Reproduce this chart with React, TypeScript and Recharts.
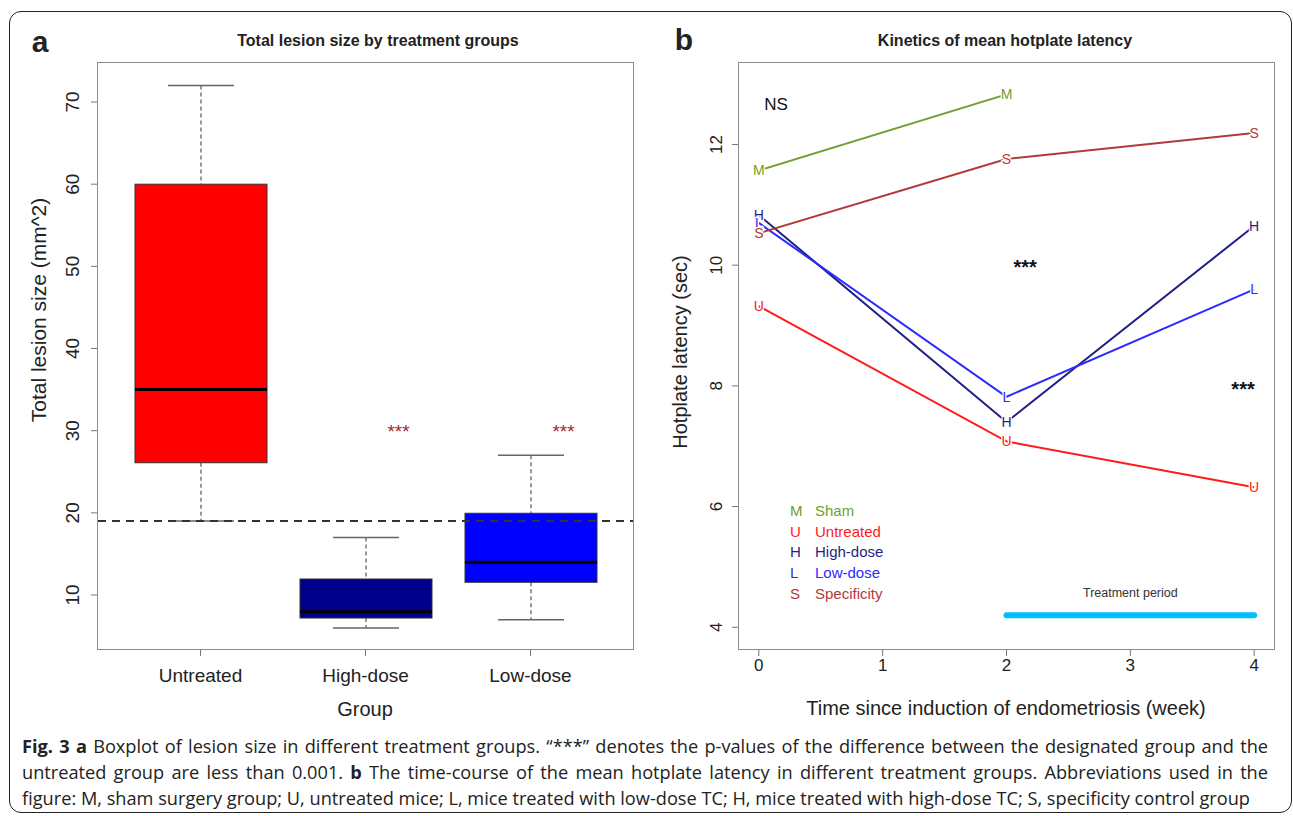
import {
  Bar,
  ComposedChart,
  Line,
  LineChart,
  ReferenceDot,
  ReferenceLine,
  XAxis,
  YAxis,
} from "recharts";

// panel a: boxplot of lesion size
const groups = ["Untreated", "High-dose", "Low-dose"];
const lesionMin = [19, 6, 7];
const lesionQ1 = [26.1, 7.2, 11.55];
const lesionMedian = [35, 7.95, 14];
const lesionQ3 = [60, 11.95, 19.95];
const lesionMax = [72, 17, 27];
const boxFills = ["#ff0000", "#00008b", "#0000ff"];
const lesionTicks = [10, 20, 30, 40, 50, 60, 70];
const cutoff = 19;
const starGroups = ["High-dose", "Low-dose"];
const starLevel = 30;

// panel b: mean hotplate latency
const weeks = [0, 2, 4];
const weekTicks = [0, 1, 2, 3, 4];
const latencyTicks = [4, 6, 8, 10, 12];
const seriesKeys = ["M", "U", "H", "L", "S"];
const seriesNames = ["Sham", "Untreated", "High-dose", "Low-dose", "Specificity"];
const seriesColors = ["#6e9e2e", "#ff1a1a", "#1f1f85", "#2b2bff", "#b03a3a"];
const sham = [11.57, 12.83, null];
const untreated = [9.32, 7.08, 6.32];
const highDose = [10.83, 7.4, 10.65];
const lowDose = [10.7, 7.82, 9.6];
const specificity = [10.53, 11.76, 12.19];
const treatmentWeeks = [2, 4];
const treatmentLevel = 4.2;

const FONT = "'Liberation Sans', Arial, Helvetica, sans-serif";
const INK = "#222";

const boxData = groups.map((g, i) => ({
  group: g,
  range: [lesionMin[i], lesionMax[i]],
  q1: lesionQ1[i],
  median: lesionMedian[i],
  q3: lesionQ3[i],
  fill: boxFills[i],
}));

const allSeries = [sham, untreated, highDose, lowDose, specificity];
const lineData = weeks.map((w, i) => {
  const row: any = { week: w };
  seriesKeys.forEach((k, j) => {
    row[k] = allSeries[j][i];
  });
  return row;
});

// desenha a caixa inteira a partir da barra [min, max]
const BoxShape = (props: any) => {
  const { x, y, width, height, payload } = props;
  const [lo, hi] = payload.range;
  const top = Math.min(y, y + height);
  const h = Math.abs(height);
  const toY = (v: number) => top + (h * (hi - v)) / (hi - lo);
  const cx = x + width / 2;
  const cap = width / 4;
  return (
    <g>
      <line x1={cx} x2={cx} y1={toY(hi)} y2={toY(payload.q3)} stroke="#555" strokeDasharray="4 3" strokeWidth={1.2} />
      <line x1={cx} x2={cx} y1={toY(payload.q1)} y2={toY(lo)} stroke="#555" strokeDasharray="4 3" strokeWidth={1.2} />
      <line x1={cx - cap} x2={cx + cap} y1={toY(hi)} y2={toY(hi)} stroke="#666" strokeWidth={1.5} />
      <line x1={cx - cap} x2={cx + cap} y1={toY(lo)} y2={toY(lo)} stroke="#666" strokeWidth={1.5} />
      <rect
        x={x}
        y={toY(payload.q3)}
        width={width}
        height={toY(payload.q1) - toY(payload.q3)}
        fill={payload.fill}
        stroke="#333"
        strokeWidth={1}
      />
      <line x1={x} x2={x + width} y1={toY(payload.median)} y2={toY(payload.median)} stroke="#000" strokeWidth={3} />
    </g>
  );
};

const makeRotatedTick = (offset: number, size: number) => (props: any) => {
  const { x, y, payload } = props;
  const bx = x - offset;
  return (
    <text
      x={bx}
      y={y}
      transform={`rotate(-90 ${bx} ${y})`}
      textAnchor="middle"
      fontSize={size}
      fontFamily={FONT}
      fill={INK}
    >
      {payload.value}
    </text>
  );
};

const makeBottomTick = (offset: number, size: number) => (props: any) => {
  const { x, y, payload } = props;
  return (
    <text x={x} y={y + offset} textAnchor="middle" fontSize={size} fontFamily={FONT} fill={INK}>
      {payload.value}
    </text>
  );
};

const makeLetterDot = (letter: string, color: string) => (props: any) => {
  const { cx, cy, index } = props;
  if (cx == null || cy == null || props.value == null) return <g key={index} />;
  return (
    <text
      key={index}
      x={cx}
      y={cy}
      dy="0.36em"
      textAnchor="middle"
      fontSize={14}
      fontFamily={FONT}
      fill={color}
      stroke="#fff"
      strokeWidth={2.5}
      paintOrder="stroke"
    >
      {letter}
    </text>
  );
};

const textShape = (txt: string, color: string, size: number, dx = 0, weight = "normal") => (props: any) => (
  <text
    x={props.cx + dx}
    y={props.cy}
    dy="0.36em"
    textAnchor="middle"
    fontSize={size}
    fontFamily={FONT}
    fontWeight={weight}
    fill={color}
  >
    {txt}
  </text>
);

const abs = (s: any): any => ({ position: "absolute", ...s });

const frameStyle = (left: number, top: number, right: number, bottom: number) =>
  abs({
    left: left - 0.75,
    top: top - 0.75,
    width: right - left + 1.5,
    height: bottom - top + 1.5,
    border: "1.5px solid #8c8c8c",
    boxSizing: "border-box",
    pointerEvents: "none",
  });

const label = (txt: string, x: number, y: number, size: number, extra: any = {}) => (
  <div
    style={abs({
      left: x,
      top: y,
      transform: `translate(-50%, -50%) ${extra.rotate ? "rotate(-90deg)" : ""}`,
      fontSize: size,
      fontFamily: FONT,
      color: extra.color || INK,
      fontWeight: extra.bold ? "bold" : "normal",
      whiteSpace: "nowrap",
      lineHeight: 1,
    })}
  >
    {txt}
  </div>
);

const captionLines = [
  [
    <b key="f">Fig. 3 a</b>,
    " Boxplot of lesion size in different treatment groups. \u201c***\u201d denotes the p-values of the difference between the designated group and the",
  ],
  [
    "untreated group are less than 0.001. ",
    <b key="b">b</b>,
    " The time-course of the mean hotplate latency in different treatment groups. Abbreviations used in the",
  ],
  ["figure: M, sham surgery group; U, untreated mice; L, mice treated with low-dose TC; H, mice treated with high-dose TC; S, specificity control group"],
];

export default function App() {
  return (
    <div style={abs({ left: 0, top: 0, width: 1293, height: 816, background: "#fff", overflow: "hidden" })}>
      <div
        style={abs({
          left: 9,
          top: 11,
          width: 1283,
          height: 802,
          border: "1.5px solid #222",
          borderRadius: 12,
          boxSizing: "border-box",
        })}
      />

      {/* painel a */}
      <div style={abs({ left: 0, top: 0 })}>
        <ComposedChart
          width={660}
          height={730}
          data={boxData}
          margin={{ top: 63, right: 27, bottom: 31, left: 58 }}
        >
          <XAxis
            dataKey="group"
            type="category"
            padding={{ left: 20, right: 20 }}
            axisLine={false}
            tickLine={{ stroke: "#777" }}
            tickSize={7}
            tickMargin={0}
            height={50}
            tick={makeBottomTick(26, 19)}
          />
          <YAxis
            type="number"
            domain={[3.43, 74.75]}
            ticks={lesionTicks}
            allowDataOverflow
            axisLine={false}
            tickLine={{ stroke: "#777" }}
            tickSize={7}
            tickMargin={0}
            width={40}
            tick={makeRotatedTick(12, 19)}
          />
          <ReferenceLine y={cutoff} stroke="#333" strokeWidth={2} strokeDasharray="8 6" />
          <Bar dataKey="range" barSize={132} shape={BoxShape} isAnimationActive={false} />
          {starGroups.map((g) => (
            <ReferenceDot
              key={g}
              x={g}
              y={starLevel}
              r={0}
              shape={textShape("***", "#a52a2a", 19, 33)}
            />
          ))}
        </ComposedChart>
      </div>
      <div style={frameStyle(98, 63, 633, 649)} />
      {label("a", 40, 42, 30, { bold: true })}
      {label("Total lesion size by treatment groups", 378, 41, 16, { bold: true })}
      {label("Total lesion size (mm^2)", 38, 310, 21, { rotate: true })}
      {label("Group", 365, 709, 20)}

      {/* painel b */}
      <div style={abs({ left: 660, top: 0 })}>
        <LineChart
          width={633}
          height={730}
          data={lineData}
          margin={{ top: 63, right: 19, bottom: 31, left: 39 }}
        >
          <XAxis
            dataKey="week"
            type="number"
            domain={[-0.16, 4.16]}
            ticks={weekTicks}
            allowDataOverflow
            axisLine={false}
            tickLine={{ stroke: "#777" }}
            tickSize={7}
            tickMargin={0}
            height={50}
            tick={makeBottomTick(15, 17)}
          />
          <YAxis
            type="number"
            domain={[3.64, 13.35]}
            ticks={latencyTicks}
            allowDataOverflow
            axisLine={false}
            tickLine={{ stroke: "#777" }}
            tickSize={7}
            tickMargin={0}
            width={40}
            tick={makeRotatedTick(10, 17)}
          />
          <ReferenceLine
            segment={[
              { x: treatmentWeeks[0], y: treatmentLevel },
              { x: treatmentWeeks[1], y: treatmentLevel },
            ]}
            stroke="#00bfff"
            strokeWidth={6}
            strokeLinecap="round"
          />
          <ReferenceDot x={3} y={4.58} r={0} shape={textShape("Treatment period", "#333", 12.5)} />
          <ReferenceDot x={0.14} y={12.68} r={0} shape={textShape("NS", "#111", 17)} />
          <ReferenceDot x={2.15} y={9.97} r={0} shape={textShape("***", "#111", 20, 0, "bold")} />
          <ReferenceDot x={3.91} y={7.95} r={0} shape={textShape("***", "#111", 20, 0, "bold")} />
          {seriesKeys.map((k, j) => (
            <Line
              key={k}
              dataKey={k}
              type="linear"
              stroke={seriesColors[j]}
              strokeWidth={2}
              dot={makeLetterDot(k, seriesColors[j])}
              activeDot={false}
              connectNulls={false}
              isAnimationActive={false}
            />
          ))}
        </LineChart>
      </div>
      <div style={frameStyle(739, 63, 1274, 649)} />
      {label("b", 684, 40, 30, { bold: true })}
      {label("Kinetics of mean hotplate latency", 1005, 41, 16, { bold: true })}
      {label("Hotplate latency (sec)", 680, 352, 20, { rotate: true })}
      {label("Time since induction of endometriosis (week)", 1006, 708, 20)}

      {/* legenda do painel b */}
      <div style={abs({ left: 790, top: 501, fontFamily: FONT, fontSize: 15 })}>
        {seriesKeys.map((k, j) => (
          <div key={k} style={{ height: 20.7, lineHeight: "20.7px", color: seriesColors[j], whiteSpace: "nowrap" }}>
            <span style={{ display: "inline-block", width: 25 }}>{k}</span>
            {seriesNames[j]}
          </div>
        ))}
      </div>

      {/* legenda da figura */}
      <div style={abs({ left: 22, top: 733, width: 1246, fontFamily: "'Open Sans', sans-serif", fontSize: 18.2, color: "#222" })}>
        {captionLines.map((ln, i) => (
          <div
            key={i}
            style={{
              height: 26,
              lineHeight: "26px",
              whiteSpace: "nowrap",
              textAlign: "justify",
              textAlignLast: i < 2 ? "justify" : "left",
            }}
          >
            {ln}
          </div>
        ))}
      </div>
    </div>
  );
}
